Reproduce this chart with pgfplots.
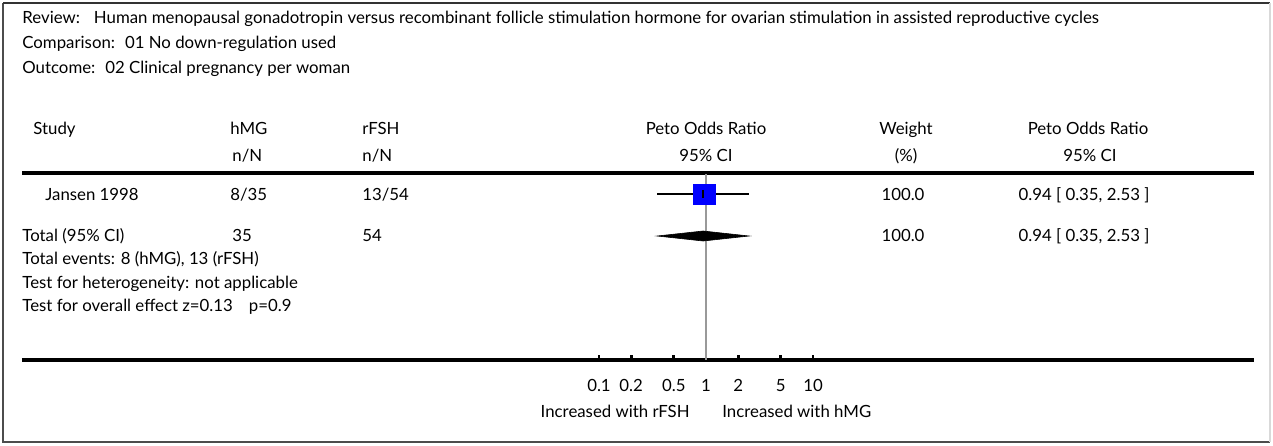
\documentclass[border=0pt]{standalone}
\usepackage{fontspec}
\setmainfont{Lato}
\usepackage{pgfplots}
\pgfplotsset{compat=1.18}
\newcommand\tf{\fontsize{8.4}{10}\selectfont}
\definecolor{sqblue}{RGB}{0,0,255}
\begin{document}
\begin{tikzpicture}
\begin{scope}[x=0.5pt,y=-0.5pt,every node/.style={font=\tf,inner sep=0pt}]
\useasboundingbox (0,0) rectangle (1273,445);
\draw[line width=0.8pt, black!70] (3,3) -- (3,442) -- (1270,442);
\draw[line width=0.8pt, black!80] (3,3) -- (1270,3);
\draw[line width=0.6pt, black!15] (1270,3) -- (1270,442);
% header
\node[anchor=mid west] at (22,18) {Review:\hskip7pt Human menopausal gonadotropin versus recombinant follicle stimulation hormone for ovarian stimulation in assisted reproductive cycles};
\node[anchor=mid west] at (22,43) {Comparison:\hskip5pt 01 No down-regulation used};
\node[anchor=mid west] at (22,68) {Outcome:\hskip5pt 02 Clinical pregnancy per woman};
% column headers
\node[anchor=mid west] at (33,129) {Study};
\node[anchor=mid west] at (230,129) {hMG};
\node[anchor=mid west] at (362,129) {rFSH};
\node[anchor=mid] at (706,129) {Peto Odds Ratio};
\node[anchor=mid] at (906,129) {Weight};
\node[anchor=mid] at (1088,129) {Peto Odds Ratio};
\node[anchor=mid west] at (232,156) {n/N};
\node[anchor=mid west] at (362,156) {n/N};
\node[anchor=mid] at (706,156) {95\% CI};
\node[anchor=mid] at (906,156) {(\%)};
\node[anchor=mid] at (1090,156) {95\% CI};
\draw[line width=2pt] (22,173) -- (1254,173);
% rows
\node[anchor=mid west] at (45,195) {Jansen 1998};
\node[anchor=mid west] at (230,195) {8/35};
\node[anchor=mid west] at (362,195) {13/54};
\node[anchor=mid] at (903,195) {100.0};
\node[anchor=mid] at (1084,195) {0.94 [ 0.35, 2.53 ]};
\node[anchor=mid west] at (22,236) {Total (95\% CI)};
\node[anchor=mid west] at (232,236) {35};
\node[anchor=mid west] at (362,236) {54};
\node[anchor=mid] at (903,236) {100.0};
\node[anchor=mid] at (1084,236) {0.94 [ 0.35, 2.53 ]};
\node[anchor=mid west] at (22,259) {Total events: 8 (hMG), 13 (rFSH)};
\node[anchor=mid west] at (22,283) {Test for heterogeneity: not applicable};
\node[anchor=mid west] at (22,306) {Test for overall effect z=0.13\hskip8pt p=0.9};
\node[anchor=mid east] at (690,412) {Increased with rFSH};
\node[anchor=mid west] at (722,412) {Increased with hMG};
\end{scope}
\begin{axis}[
  at={(11pt,-180pt)}, anchor=south west,
  scale only axis, width=616pt, height=93.5pt,
  xmode=log, xmin=4.05e-7, xmax=132300,
  ymin=173, ymax=360, y dir=reverse,
  axis x line*=bottom, axis y line=none,
  x axis line style={-, line width=2pt},
  xtick={0.1,0.2,0.5,1,2,5,10},
  xticklabels={0.1,0.2,0.5,1,2,5,10},
  xminorticks=false,
  tick align=inside, major tick length=2.6pt,
  every tick/.style={line width=1.4pt,black},
  xticklabel style={font=\tf, yshift=-6pt},
  clip=false,
]
\addplot[gray!80, line width=0.7pt] coordinates {(1,174) (1,360)};
\addplot[black, line width=0.8pt] coordinates {(0.35,194) (2.53,194)};
\addplot[fill=sqblue, draw=sqblue, line width=0.3pt] coordinates {(0.756,184) (1.214,184) (1.214,204) (0.756,204)} -- cycle;
\addplot[black, line width=0.8pt] coordinates {(0.94,190) (0.94,198)};
\addplot[fill=black, draw=black, line width=0.3pt] coordinates {(0.35,236) (0.94,231) (2.53,236) (0.94,241)} -- cycle;
\end{axis}
\end{tikzpicture}
\end{document}
